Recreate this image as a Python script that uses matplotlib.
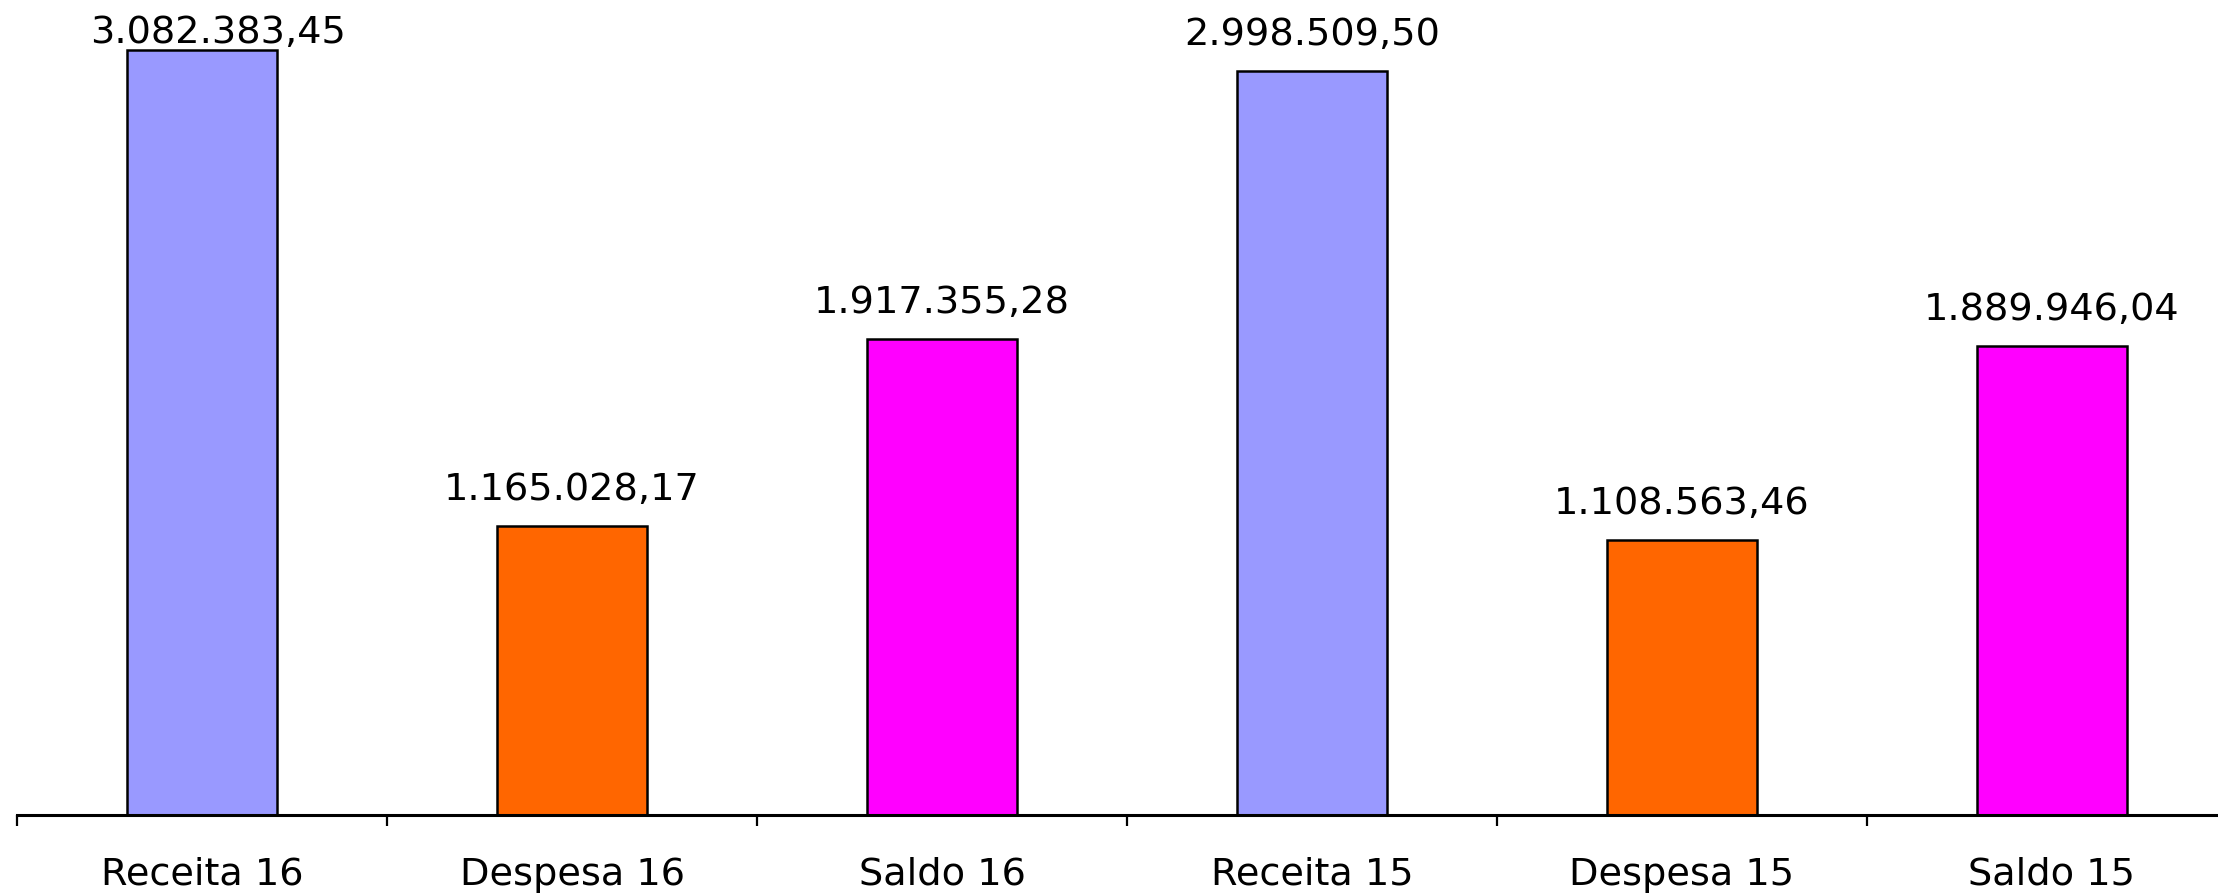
import matplotlib
matplotlib.use("Agg")
import matplotlib.pyplot as plt
import numpy as np

categories = ["Receita 16", "Despesa 16", "Saldo 16", "Receita 15", "Despesa 15", "Saldo 15"]
values = [3082383.45, 1165028.17, 1917355.28, 2998509.50, 1108563.46, 1889946.04]
value_labels = ["3.082.383,45", "1.165.028,17", "1.917.355,28", "2.998.509,50", "1.108.563,46", "1.889.946,04"]
colors = ["#9999FF", "#FF6600", "#FF00FF", "#9999FF", "#FF6600", "#FF00FF"]

plt.rcParams['font.family'] = ['DejaVu Sans']

W, H = 2218, 895
fig = plt.figure(figsize=(W / 100, H / 100), dpi=100)
base_y = 816
ax = fig.add_axes([17 / W, (H - base_y) / H, 2220 / W, base_y / H])

x = np.arange(len(categories))
ax.bar(x, values, width=0.405, color=colors, edgecolor="black", linewidth=1.8, zorder=2)

ax.set_xlim(-0.5, len(categories) - 0.5)
ax.set_ylim(0, 3082383.45 / 765 * 816)

# label offsets in points (first label pushed down/right to stay inside the figure)
label_dx = [11.5, 0, 0, 0, 0, 0]
label_dy = [5.5, 19.5, 19.5, 19.5, 19.5, 19.5]
for xi, v, lab, dx, dy in zip(x, values, value_labels, label_dx, label_dy):
    ax.annotate(lab, (xi, v), xytext=(dx, dy), textcoords="offset points",
                ha="center", va="baseline", fontsize=27.5, color="black")

for s in ["top", "right", "left"]:
    ax.spines[s].set_visible(False)
ax.spines["bottom"].set_linewidth(2.2)
ax.set_yticks([])

ax.set_xticks(np.arange(-0.5, len(categories) + 0.5, 1.0))
ax.set_xticklabels([])
ax.tick_params(axis="x", which="major", direction="out", length=8, width=1.6)
ax.set_xticks(x, minor=True)
ax.set_xticklabels(categories, minor=True, fontsize=27.5)
ax.tick_params(axis="x", which="minor", length=0, pad=29.5)

fig.savefig("out.png", dpi=100)
